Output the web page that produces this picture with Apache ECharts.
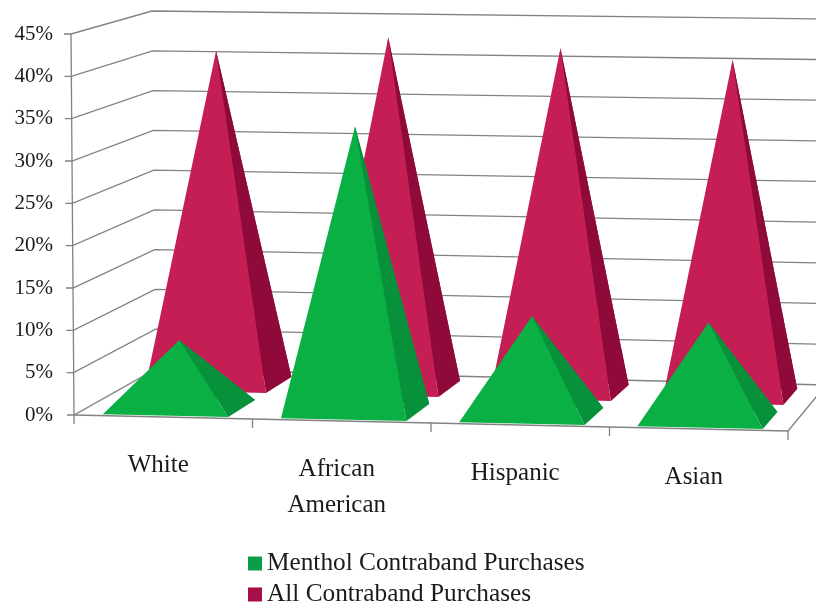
<!DOCTYPE html>
<html><head><meta charset="utf-8">
<style>html,body{margin:0;padding:0;background:#fff}#c{width:816px;height:608px}</style>
<script src="https://cdn.jsdelivr.net/npm/echarts@6/dist/echarts.min.js"></script>
</head><body><div id="c"></div>
<script>
var categories = ['White', 'African\nAmerican', 'Hispanic', 'Asian'];
var mentholValues = [8, 34, 11.8, 11.5];
var allValues = [41, 43, 42, 40.9];
var yTicks = [0, 5, 10, 15, 20, 25, 30, 35, 40, 45];
var seriesNames = ['Menthol Contraband Purchases', 'All Contraband Purchases'];

var G = {left: 74, top: 34, right: 788, bottom: 415};
// perspective box corners: F/B front/back, L/R left/right, B/T bottom/top
var C = {
  FLB: [74, 415], FRB: [788, 431], BLB: [156, 369], BRB: [826, 385],
  FLT: [71, 34], FRT: [790, 50], BLT: [152, 11], BRT: [830, 19]
};
function lerp(a, b, t) { return [a[0] + (b[0] - a[0]) * t, a[1] + (b[1] - a[1]) * t]; }
function project(u, v, d) {
  var fb = lerp(C.FLB, C.FRB, u), ft = lerp(C.FLT, C.FRT, u);
  var bb = lerp(C.BLB, C.BRB, u), bt = lerp(C.BLT, C.BRT, u);
  return lerp(lerp(fb, ft, v), lerp(bb, bt, v), d);
}
function toUV(api, x, y) {
  var p = api.coord([x, y]);
  return [(p[0] - G.left) / (G.right - G.left), (G.bottom - p[1]) / (G.bottom - G.top)];
}
var HALF = 0.088;
function pyramidItem(d0, d1, front, side) {
  return function (params, api) {
    var uv = toUV(api, api.value(0), api.value(1));
    var u = uv[0], v = uv[1];
    var fl = project(u - HALF, 0, d0), fr = project(u + HALF, 0, d0);
    var br = project(u + HALF, 0, d1), bl = project(u - HALF, 0, d1);
    var apex = project(u, v, (d0 + d1) / 2);
    return {type: 'group', children: [
      {type: 'polygon', shape: {points: [bl, br, apex]}, style: {fill: side}},
      {type: 'polygon', shape: {points: [fr, br, apex]}, style: {fill: side}},
      {type: 'polygon', shape: {points: [fl, fr, apex]}, style: {fill: front}}
    ]};
  };
}
var lineStyle = {stroke: '#828282', lineWidth: 1.3, fill: null};
function wallItem(params, api) {
  var v = toUV(api, 0, api.value(1))[1];
  var a = project(0, v, 0), b = project(0, v, 1), c = project(1, v, 1);
  var kids = [
    {type: 'polyline', shape: {points: [[a[0] - 7, a[1]], a, b, c]}, style: lineStyle}
  ];
  if (params.dataIndex === 0) {
    kids.push({type: 'line', shape: {x1: C.FLB[0], y1: C.FLB[1], x2: C.FLT[0], y2: C.FLT[1]}, style: lineStyle});
    kids.push({type: 'polyline', shape: {points: [C.FLB, C.FRB, C.BRB]}, style: lineStyle});
    for (var i = 0; i <= categories.length; i++) {
      var p = project(i / categories.length, 0, 0);
      kids.push({type: 'line', shape: {x1: p[0], y1: p[1], x2: p[0], y2: p[1] + 9}, style: lineStyle});
    }
  }
  return {type: 'group', children: kids};
}
function labelItem(params, api) {
  var u = toUV(api, api.value(0), 0)[0];
  var p = project(u, 0, 0);
  return {type: 'text', style: {
    x: p[0] - 5, y: p[1] + 30,
    text: categories[params.dataIndex], align: 'center', verticalAlign: 'top',
    font: '25px "Liberation Serif"', fill: '#1a1a1a', lineHeight: 36
  }};
}
var chart = echarts.init(document.getElementById('c'), null, {renderer: 'canvas'});
chart.setOption({
  animation: false,
  backgroundColor: '#ffffff',
  grid: {left: G.left, top: G.top, width: G.right - G.left, height: G.bottom - G.top},
  xAxis: {type: 'category', data: categories, axisLine: {show: false}, axisTick: {show: false}, axisLabel: {show: false}, splitLine: {show: false}},
  yAxis: {type: 'value', min: 0, max: 45, interval: 5, axisLine: {show: false}, axisTick: {show: false}, splitLine: {show: false},
    axisLabel: {formatter: '{value}%', margin: 21, fontFamily: 'Liberation Serif', fontSize: 21, color: '#1a1a1a'}},
  legend: {orient: 'vertical', left: 248, top: 551, itemWidth: 14, itemHeight: 14, itemGap: 6, padding: 0,
    data: seriesNames.map(function (n) { return {name: n, icon: 'rect'}; }),
    textStyle: {fontFamily: 'Liberation Serif', fontSize: 25.3, color: '#1a1a1a'}},
  series: [
    {type: 'custom', name: 'walls', silent: true, renderItem: wallItem, clip: false, z: 1,
      data: yTicks.map(function (t) { return [0, t]; })},
    {type: 'custom', name: seriesNames[1], renderItem: pyramidItem(0.55, 0.9, '#c41e54', '#8f0a3a'), clip: false, z: 2,
      itemStyle: {color: '#a80f48'},
      data: allValues.map(function (v, i) { return [i, v]; })},
    {type: 'custom', name: seriesNames[0], renderItem: pyramidItem(0.03, 0.4, '#0bb044', '#07913a'), clip: false, z: 3,
      itemStyle: {color: '#0a9e46'},
      data: mentholValues.map(function (v, i) { return [i, v]; })},
    {type: 'custom', name: 'labels', silent: true, renderItem: labelItem, clip: false, z: 4,
      data: categories.map(function (c, i) { return [i, 0]; })}
  ]
});
</script></body></html>
